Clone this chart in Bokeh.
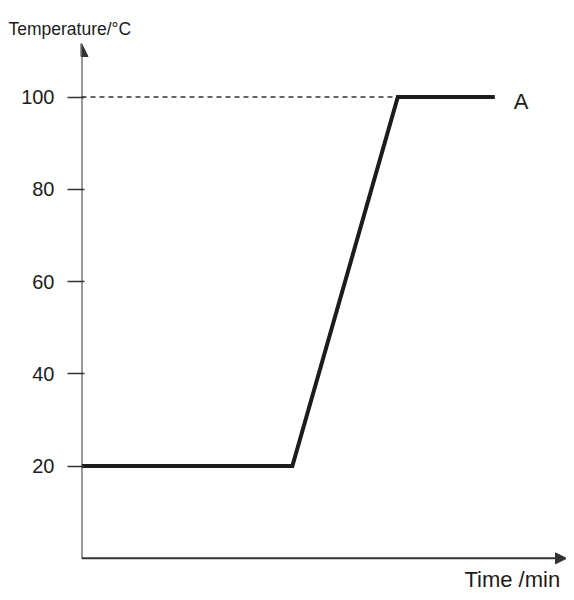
from bokeh.plotting import figure
from bokeh.models import Range1d, FixedTicker, Arrow, NormalHead
from bokeh.core.properties import value
from bokeh.embed import file_html
from bokeh.resources import INLINE

# ---- data ----
time_min = [0, 10, 15, 19.6]
temperature = [20, 20, 100, 100]
y_ticks = [20, 40, 60, 80, 100]
boil_temp = 100
boil_start_time = 15
label_A = "A"
y_title = "Temperature/\u00b0C"
x_title = "Time /min"

FONT = "Liberation Sans"
INK = "#1c1c1c"
AXIS = "#333333"

X_MAX = 23.0
Y_MAX = 111.6
Y_MIN = -7.4

p = figure(width=566, height=592, output_backend="svg", toolbar_location=None,
           x_range=Range1d(0, X_MAX), y_range=Range1d(Y_MIN, Y_MAX),
           min_border_left=81, min_border_right=0, min_border_top=43,
           min_border_bottom=0)
p.grid.visible = False
p.outline_line_color = None
p.background_fill_color = "white"
p.border_fill_color = "white"
p.xaxis.visible = False

p.title.text = y_title
p.title.align = "left"
p.title.offset = -73
p.title.text_font = FONT
p.title.text_font_size = "17.5px"
p.title.text_font_style = "normal"
p.title.text_color = INK
p.title.standoff = 10

p.yaxis.ticker = FixedTicker(ticks=y_ticks)
p.yaxis.major_tick_out = 14
p.yaxis.major_tick_in = 3
p.yaxis.minor_tick_out = 0
p.yaxis.minor_tick_in = 0
p.yaxis.major_tick_line_width = 1.5
p.yaxis.major_tick_line_color = AXIS
p.yaxis.axis_line_color = None
p.yaxis.major_label_text_font = FONT
p.yaxis.major_label_text_font_size = "20px"
p.yaxis.major_label_text_color = INK
p.yaxis.major_label_standoff = 13

# axes drawn as arrows from the origin
p.add_layout(Arrow(end=NormalHead(size=13, fill_color=AXIS, line_color=AXIS),
                   x_start=0, y_start=0, x_end=0, y_end=Y_MAX,
                   line_color=AXIS, line_width=2))
p.add_layout(Arrow(end=NormalHead(size=11, fill_color=AXIS, line_color=AXIS),
                   x_start=0, y_start=0, x_end=X_MAX, y_end=0,
                   line_color=AXIS, line_width=2))

# dashed guide at boiling point
p.line([0, boil_start_time], [boil_temp, boil_temp], line_dash="5 4",
       line_width=1.5, line_color=AXIS)

# heating curve
p.line(time_min, temperature, line_width=4, line_color=INK, line_join="miter")

# label A
p.text(x=[time_min[-1] + 0.9], y=[temperature[-1]], text=[label_A],
       text_font=value(FONT), text_font_size="22px", text_color=INK,
       text_align="left", text_baseline="middle", y_offset=4)

# x-axis title
p.text(x=[X_MAX - 0.3], y=[Y_MIN], text=[x_title],
       text_font=value(FONT), text_font_size="22px", text_color=INK,
       text_align="right", text_baseline="bottom", y_offset=-1)

open("out.html", "w").write(file_html(p, INLINE))
